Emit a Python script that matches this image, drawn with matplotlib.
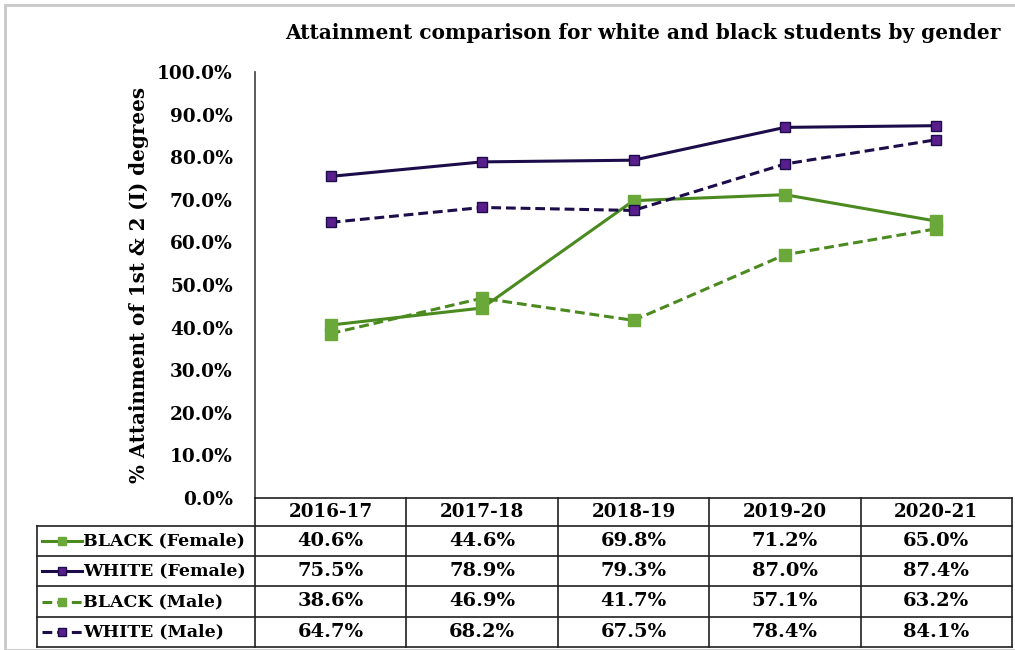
import matplotlib.pyplot as plt
from matplotlib.patches import Rectangle
from matplotlib.ticker import PercentFormatter

years = ['2016-17', '2017-18', '2018-19', '2019-20', '2020-21']
black_female = [40.6, 44.6, 69.8, 71.2, 65.0]
white_female = [75.5, 78.9, 79.3, 87.0, 87.4]
black_male = [38.6, 46.9, 41.7, 57.1, 63.2]
white_male = [64.7, 68.2, 67.5, 78.4, 84.1]
series_names = ['BLACK (Female)', 'WHITE (Female)', 'BLACK (Male)', 'WHITE (Male)']

green_line = '#4a8a1f'
green_face = '#6aa83a'
purple_line = '#1c0d4a'
purple_face = '#5a1e8c'

styles = [
    dict(color=green_line, ls='-', mfc=green_face, mec=green_face, ms=8.5),
    dict(color=purple_line, ls='-', mfc=purple_face, mec=purple_line, ms=7),
    dict(color=green_line, ls=(0, (3.2, 1.6)), mfc=green_face, mec=green_face, ms=8.5),
    dict(color=purple_line, ls=(0, (3.2, 1.6)), mfc=purple_face, mec=purple_line, ms=7),
]
all_data = [black_female, white_female, black_male, white_male]

W, H = 1015, 650
fig = plt.figure(figsize=(W / 100, H / 100), dpi=100)
plt.rcParams['font.family'] = ['DejaVu Serif']

# outer frame
fig.patches.append(Rectangle((5 / W, 0), 1.2, 1 - 5 / H, transform=fig.transFigure,
                             fill=False, ec='#c8c8c8', lw=2))

x0, x1 = 255, 1012
ytop, ybot = 72, 498
ax = fig.add_axes([x0 / W, 1 - ybot / H, (x1 - x0) / W, (ybot - ytop) / H])
xs = list(range(len(years)))
for d, st in zip(all_data, styles):
    ax.plot(xs, d, marker='s', lw=2.2, mew=1, color=st['color'], ls=st['ls'],
            mfc=st['mfc'], mec=st['mec'], ms=st['ms'])
ax.set_xlim(-0.5, 4.5)
ax.set_ylim(0, 100)
ax.set_yticks(range(0, 101, 10))
ax.yaxis.set_major_formatter(PercentFormatter(decimals=1))
ax.set_xticks([])
for s in ['top', 'right', 'bottom']:
    ax.spines[s].set_visible(False)
ax.spines['left'].set_color('#404040')
ax.spines['left'].set_linewidth(1.2)
ax.tick_params(axis='y', length=0, pad=16, labelsize=13.3)
for lab in ax.get_yticklabels():
    lab.set_fontweight('bold')
ax.set_ylabel('% Attainment of 1st & 2 (I) degrees', fontsize=14.3, fontweight='bold', labelpad=6)
fig.text(643 / W, 1 - 33 / H, 'Attainment comparison for white and black students by gender',
         ha='center', va='center', fontsize=14.5, fontweight='bold')

# data table
tl = 37
unit = (x1 - x0) / 5.0
tab = fig.add_axes([tl / W, 0, (x1 - tl) / W, (H - ybot) / H])
tab.set_xlim(-0.5 - (x0 - tl) / unit, 4.5)
tab.set_ylim(H, ybot)
tab.axis('off')
rows = [ybot, 526, 556, 586, 617, 647]
lc = '#202020'
lx = tab.get_xlim()[0]
tab.plot([-0.5, 4.5], [rows[0], rows[0]], color=lc, lw=1.2, clip_on=False)
for r in rows[1:]:
    tab.plot([lx, 4.5], [r, r], color=lc, lw=1.2, clip_on=False)
for i in range(6):
    xv = -0.5 + i
    tab.plot([xv, xv], [rows[0], rows[-1]], color=lc, lw=1.2, clip_on=False)
tab.plot([lx, lx], [rows[1], rows[-1]], color=lc, lw=1.2, clip_on=False)

for i, y in enumerate(years):
    tab.text(i, (rows[0] + rows[1]) / 2, y, ha='center', va='center', fontsize=13.2, fontweight='bold')
for j, (name, d, st) in enumerate(zip(series_names, all_data, styles)):
    yc = (rows[j + 1] + rows[j + 2]) / 2
    for i, v in enumerate(d):
        tab.text(i, yc, f'{v:.1f}%', ha='center', va='center', fontsize=14, fontweight='bold')
    sx0 = lx + 5 / unit
    sx1 = lx + 45 / unit
    tab.plot([sx0, sx1], [yc, yc], lw=2.2, color=st['color'], ls=st['ls'], clip_on=False)
    tab.plot([(sx0 + sx1) / 2], [yc], marker='s', mfc=st['mfc'], mec=st['mec'], ms=6, clip_on=False)
    tab.text(lx + 46 / unit, yc, name, ha='left', va='center', fontsize=12.5, fontweight='bold')

fig.savefig('out.png', dpi=100)
